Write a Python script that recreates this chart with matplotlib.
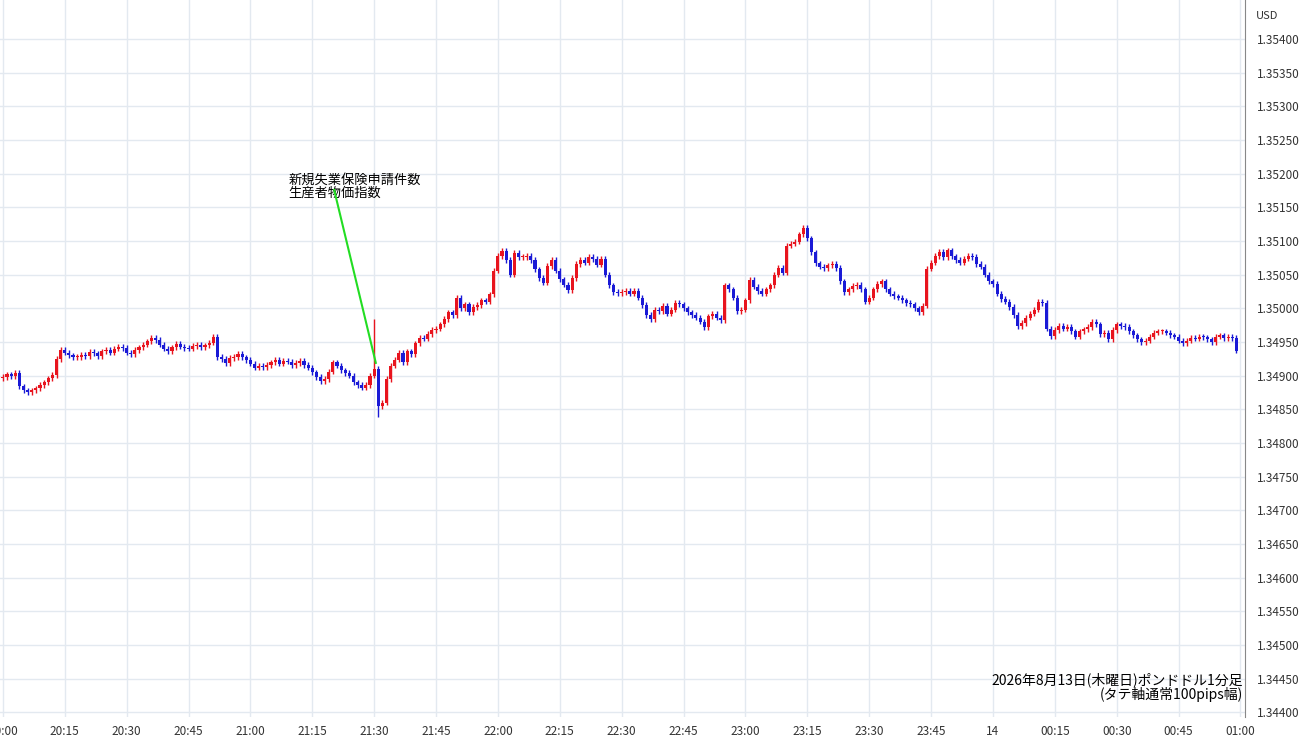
import numpy as np
import matplotlib.pyplot as plt

plt.rcParams['font.family'] = ['Noto Sans CJK JP', 'DejaVu Sans']

# 1-minute closes, in pips above 1.34000, 20:00 .. 00:59
closes = [
    89.8, 90.2, 89.9, 90.4, 88.4, 87.8, 87.6, 87.8, 88.1, 88.6, 89.0, 89.6, 90.1, 92.5, 93.8,
    93.4, 93.0, 92.7, 92.8, 93.1, 92.9, 93.5, 93.3, 92.9, 93.6, 93.8, 93.4, 94.0, 94.3, 94.1,
    93.4, 93.2, 93.8, 94.2, 94.6, 95.1, 95.6, 95.3, 94.6, 94.0, 93.6, 94.2, 94.7, 94.3, 94.1,
    94.0, 94.4, 94.6, 94.2, 94.5, 94.9, 95.8, 92.8, 92.5, 91.9, 92.6, 92.8, 93.2, 92.7, 92.3,
    91.8, 91.2, 91.5, 91.3, 91.6, 92.0, 92.4, 91.8, 92.2, 92.1, 91.6, 91.9, 92.2, 91.6, 91.2,
    90.5, 89.8, 89.2, 89.5, 90.6, 92.0, 91.5, 90.8, 90.4, 90.0, 89.0, 88.6, 88.2, 88.6, 90.0,
    91.0, 85.5, 86.0, 89.5, 91.5, 92.4, 93.4, 92.0, 93.6, 93.2, 94.8, 95.6, 95.5, 96.2, 96.8,
    97.0, 97.6, 98.4, 99.4, 99.0, 101.6, 100.0, 100.6, 99.4, 100.2, 100.5, 101.2, 101.0, 102.1, 105.6,
    107.8, 108.5, 107.2, 105.0, 108.2, 107.6, 107.6, 107.8, 107.2, 105.8, 104.5, 103.8, 106.3, 107.2, 105.6,
    104.3, 103.5, 102.7, 104.5, 106.6, 107.2, 106.8, 107.6, 107.3, 106.5, 107.4, 105.0, 103.4, 102.4, 102.3,
    102.4, 102.6, 102.2, 102.6, 101.6, 100.5, 99.0, 98.4, 99.8, 99.6, 100.4, 99.2, 99.8, 100.8, 100.6,
    100.0, 99.4, 99.0, 98.6, 98.0, 97.2, 98.8, 99.2, 98.6, 98.2, 103.4, 102.8, 101.6, 99.6, 99.8,
    101.2, 104.2, 103.2, 102.6, 102.2, 102.8, 103.4, 105.0, 106.0, 105.3, 109.3, 109.6, 109.9, 111.0, 112.0,
    110.4, 108.3, 106.7, 106.2, 106.0, 106.4, 106.6, 106.0, 104.0, 102.4, 102.8, 103.3, 103.5, 102.8, 101.0,
    101.6, 102.8, 103.6, 104.0, 102.8, 102.2, 101.8, 101.6, 101.2, 100.8, 100.6, 100.0, 99.4, 100.4, 105.9,
    106.8, 107.8, 108.4, 107.6, 108.6, 107.7, 107.2, 106.8, 107.4, 107.8, 107.6, 106.6, 106.2, 105.0, 104.0,
    103.6, 102.2, 101.4, 101.0, 100.2, 99.0, 97.4, 97.8, 98.6, 99.2, 99.8, 101.0, 100.8, 97.0, 95.9,
    96.8, 97.4, 97.0, 97.2, 96.6, 95.8, 96.6, 96.9, 97.2, 98.0, 97.6, 96.2, 96.4, 95.4, 96.8,
    97.6, 97.4, 97.2, 96.6, 96.0, 95.4, 95.0, 95.2, 95.8, 96.4, 96.6, 96.6, 96.4, 96.0, 95.8,
    95.2, 94.8, 95.2, 95.6, 95.5, 95.8, 95.7, 95.4, 95.0, 95.8, 96.0, 95.6, 95.8, 95.6, 93.7,
]
first_open = 89.6
spike_highs = {90: 98.4, 105: 95.6}
spike_lows = {91: 83.8}

tick_pos = [15, 30, 45, 60, 75, 90, 105, 120, 135, 150, 165, 180, 195, 210, 225, 240, 255, 270, 285, 300]
tick_labels = ['20:15', '20:30', '20:45', '21:00', '21:15', '21:30', '21:45', '22:00', '22:15', '22:30',
               '22:45', '23:00', '23:15', '23:30', '23:45', '14', '00:15', '00:30', '00:45', '01:00']

c = 1.34 + np.array(closes) / 10000
o = np.concatenate([[1.34 + first_open / 10000], c[:-1]])
hi = np.maximum(o, c) + 0.00004
lo = np.minimum(o, c) - 0.00004
for k, v in spike_highs.items():
    hi[k] = max(hi[k], 1.34 + v / 10000)
for k, v in spike_lows.items():
    lo[k] = min(lo[k], 1.34 + v / 10000)

fig = plt.figure(figsize=(13, 7.45), dpi=100)
ax = fig.add_axes([0.0, 0.0376, 0.958, 0.9624])
up_col, dn_col = '#e8141e', '#1a1ad6'
x = np.arange(len(c))
for i in x:
    col = up_col if c[i] >= o[i] else dn_col
    ax.vlines(i, lo[i], hi[i], color=col, lw=1, zorder=3)
    h = max(abs(c[i] - o[i]), 0.000015)
    ax.bar(i, h, bottom=min(o[i], c[i]), width=0.75, color=col, zorder=3)

ax.set_xlim(-0.7, 301.2)
ax.set_ylim(1.34393, 1.35458)
yt = np.arange(1.344, 1.35401, 0.0005)
ax.set_yticks(yt)
ax.set_yticklabels([f'{v:.5f}' for v in yt])
ax.set_xticks([0] + tick_pos)
ax.set_xticklabels(['20:00'] + tick_labels)
ax.yaxis.tick_right()
ax.tick_params(axis='both', length=0, labelsize=8.5, colors='#333333')
ax.tick_params(axis='y', pad=8)
ax.tick_params(axis='x', pad=6)
ax.grid(True, color='#e3e9f0', lw=1)
ax.set_axisbelow(True)
for s in ['top', 'left', 'bottom']:
    ax.spines[s].set_visible(False)
ax.spines['right'].set_color('#888888')

fig.text(0.975, 0.978, 'USD', fontsize=8, color='#333333', ha='center', va='center')

ax.plot([80.3, 90.4], [1.35176, 1.34919], color='#22dd22', lw=1.5, zorder=4)
ax.text(69.3, 1.35161, '新規失業保険申請件数\n生産者物価指数', fontsize=9.5,
        ha='left', va='bottom', linespacing=1.0)
ax.text(300.5, 1.34415, '2026年8月13日(木曜日)ポンドドル1分足\n(タテ軸通常100pips幅)',
        fontsize=10, ha='right', va='bottom', linespacing=1.0)

fig.savefig('out.png', dpi=100)
